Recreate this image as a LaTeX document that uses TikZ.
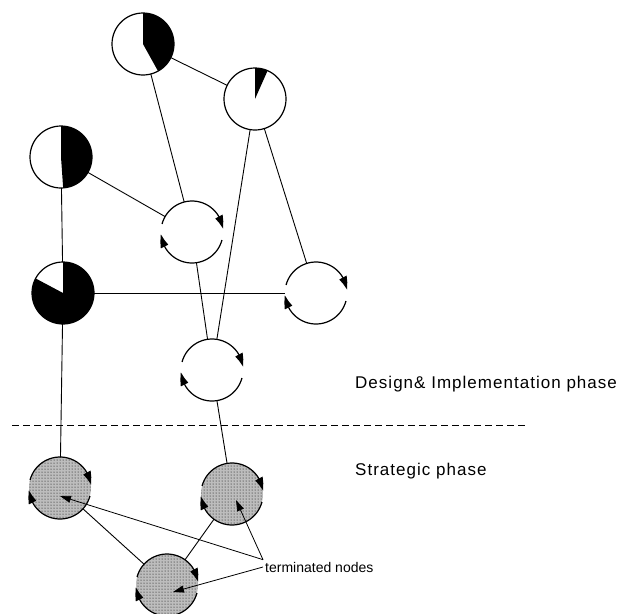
\documentclass[tikz,border=0pt]{standalone}
\usepackage{fontspec}
\setmainfont{Liberation Sans}
\usepackage{tikz}
\usetikzlibrary{
  arrows.meta, bending, patterns
}
\definecolor{sgrey}{HTML}{BDBDBD}
\definecolor{sink}{HTML}{000000}
\newcommand{\nr}{31}
\tikzset{
  >=Triangle,
  font=\fontsize{17}{20}\selectfont,
  state/.style={
    circle, minimum size=62pt, inner sep=0pt, outer sep=0pt
  },
  pie/.style 2 args={
    state, draw=sink, fill=white, line width=1.2pt,
    path picture={\fill[sink] (path picture bounding box.center) -- ++(#1:\nr)
      arc[start angle=#1, end angle=#2, radius=\nr] -- cycle;}
  },
  live/.style={state},
  done/.style={state, fill=sgrey, postaction={pattern=dots}},
  spin/.style={line width=1.2pt, draw=sink, -{Triangle[length=13pt, width=8pt, bend]}},
  cyc/.pic={
    \draw[spin] (165:\nr) arc[start angle=165, end angle=6, radius=\nr];
    \draw[spin] (-15:\nr) arc[start angle=-15, end angle=-176, radius=\nr];
  },
  link/.style={line width=0.9pt, draw=sink},
  cut/.style={line width=0.9pt, draw=sink, dash pattern=on 7pt off 4pt},
  ptr/.style={line width=0.8pt, draw=sink, -{Triangle[length=11pt, width=7pt]}},
  tag/.style={
    anchor=base west, inner sep=0pt,
    font=\fontsize{17}{20}\selectfont\addfontfeature{LetterSpace=6}
  }
}

\begin{document}
\begin{tikzpicture}[x=1pt, y=1pt]
  \useasboundingbox (0,0) rectangle (620,-613);

  \node[pie={90}{-61}] (A) at (143,-44) {};
  \node[pie={90}{66}] (B) at (255,-99) {};
  \node[pie={90}{-86}] (C) at (61,-157) {};
  \node[pie={152}{450}] (D) at (63,-293) {};

  \node[live] (E) at (192,-232) {};
  \node[live] (F) at (316,-293) {};
  \node[live] (G) at (212,-370) {};
  \pic at (E.center) {cyc};
  \pic at (F.center) {cyc};
  \pic at (G.center) {cyc};

  \node[done] (H) at (60,-488) {};
  \node[done] (I) at (232,-494) {};
  \node[done] (J) at (167,-585) {};
  \pic at (H.center) {cyc};
  \pic at (I.center) {cyc};
  \pic at (J.center) {cyc};

  \draw[link] (A) -- (B);
  \draw[link] (A) -- (E);
  \draw[link] (B) -- (G);
  \draw[link] (B) -- (F);
  \draw[link] (C) -- (E);
  \draw[link] (C) -- (D);
  \draw[link] (D) -- (F);
  \draw[link] (E) -- (G);
  \draw[link] (D) -- (H);
  \draw[link] (G) -- (I);
  \draw[link] (H) -- (J);
  \draw[link] (I) -- (J);

  \draw[cut] (12,-425) -- (527,-425);

  \node[tag] (design) at (355,-388) {Design\& Implementation phase};
  \node[tag] (strat) at (355,-475) {Strategic phase};
  \node[tag, inner sep=2pt, font=\fontsize{14}{16}\selectfont] (term) at (263,-572) {terminated nodes};

  \draw[ptr] (term.north west) -- ([yshift=-8pt]H.center);
  \draw[ptr] (term.north west) -- ([shift={(4pt,-6pt)}]I.center);
  \draw[ptr] (term.west) -- ([shift={(6pt,-7pt)}]J.center);
\end{tikzpicture}
\end{document}
